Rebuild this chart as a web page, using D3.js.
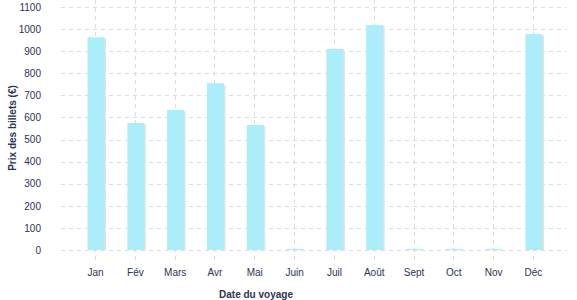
<!DOCTYPE html>
<html>
<head>
<meta charset="utf-8">
<script src="https://cdn.jsdelivr.net/npm/d3@7"></script>
<style>
  body { margin: 0; background: #fff; }
  text { font-family: "Liberation Sans", Arial, sans-serif; }
</style>
</head>
<body>
<div id="chart"></div>
<script>
// data
var months = ['Jan', 'Fév', 'Mars', 'Avr', 'Mai', 'Juin', 'Juil', 'Août', 'Sept', 'Oct', 'Nov', 'Déc']
var prices = [963, 575, 634, 755, 566, 5, 910, 1019, 5, 5, 5, 978]
var yTicks = [0, 100, 200, 300, 400, 500, 600, 700, 800, 900, 1000, 1100]

var width = 577,
    height = 300

var svg = d3.select('#chart')
    .append('svg')
    .attr('width', width)
    .attr('height', height)

var x = d3.scalePoint()
    .domain(months)
    .range([61, 567])
    .padding(0.855)

var y = d3.scaleLinear()
    .domain([0, 1100])
    .range([250, 7])

var barW = 17

// horizontal grid
svg.append('g')
    .selectAll('line')
    .data(yTicks)
    .enter()
    .append('line')
    .attr('x1', 61)
    .attr('x2', 567)
    .attr('y1', function(d) { return Math.round(y(d)) + 0.5 })
    .attr('y2', function(d) { return Math.round(y(d)) + 0.5 })
    .attr('stroke', '#dcdcdc')
    .attr('stroke-dasharray', '4,4')

// vertical grid
svg.append('g')
    .selectAll('line')
    .data(months)
    .enter()
    .append('line')
    .attr('x1', function(d) { return Math.round(x(d)) + 0.5 })
    .attr('x2', function(d) { return Math.round(x(d)) + 0.5 })
    .attr('y1', 0)
    .attr('y2', 265)
    .attr('stroke', '#dcdcdc')
    .attr('stroke-dasharray', '4,4')

// bar shadows
svg.append('g')
    .selectAll('rect')
    .data(prices)
    .enter()
    .append('rect')
    .attr('x', function(d, i) { return x(months[i]) - barW / 2 + 2.5 })
    .attr('y', function(d) { return y(d) + 1.5 })
    .attr('width', barW)
    .attr('height', function(d) { return Math.max(0, y(0) - y(d) - 1.5) })
    .attr('fill', '#e2e2e2')

// bars
svg.append('g')
    .selectAll('rect')
    .data(prices)
    .enter()
    .append('rect')
    .attr('x', function(d, i) { return x(months[i]) - barW / 2 + 1 })
    .attr('y', function(d) { return y(d) })
    .attr('width', barW)
    .attr('height', function(d) { return y(0) - y(d) })
    .attr('fill', '#abedf8')

// y axis
var yAxis = svg.append('g')
    .attr('transform', 'translate(41,0)')
    .call(d3.axisLeft(y).tickValues(yTicks).tickFormat(d3.format('d')).tickSize(0).tickPadding(0))
yAxis.select('.domain').remove()
yAxis.selectAll('text')
    .attr('fill', '#2b3452')
    .style('font-size', '10px')

// x axis
var xAxis = svg.append('g')
    .attr('transform', 'translate(0,269)')
    .call(d3.axisBottom(x).tickSize(0).tickPadding(0))
xAxis.select('.domain').remove()
xAxis.selectAll('text')
    .attr('fill', '#2b3452')
    .style('font-size', '10px')

// axis titles
svg.append('text')
    .attr('x', 256)
    .attr('y', 298)
    .attr('text-anchor', 'middle')
    .attr('fill', '#2b3452')
    .style('font-size', '10px')
    .style('font-weight', 'bold')
    .text('Date du voyage')

svg.append('text')
    .attr('transform', 'translate(16,128) rotate(-90)')
    .attr('text-anchor', 'middle')
    .attr('fill', '#2b3452')
    .style('font-size', '10px')
    .style('font-weight', 'bold')
    .text('Prix des billets (€)')
</script>
</body>
</html>
